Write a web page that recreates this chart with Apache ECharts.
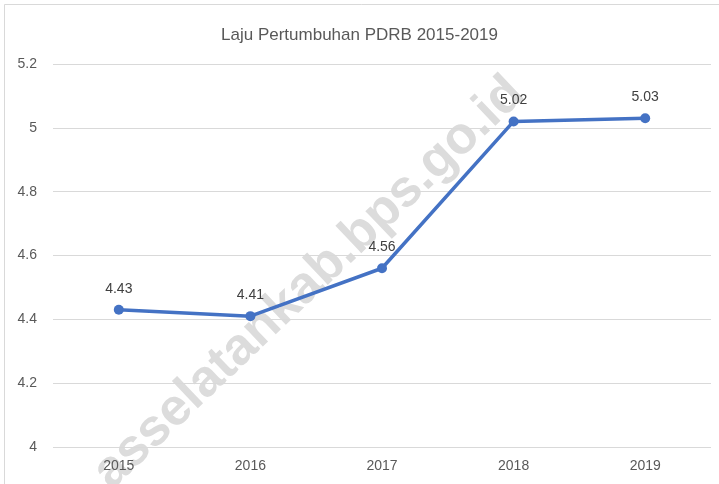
<!DOCTYPE html>
<html>
<head>
<meta charset="utf-8">
<script src="https://cdn.jsdelivr.net/npm/echarts@6/dist/echarts.min.js"></script>
<style>
  html, body { margin: 0; padding: 0; background: #fff; }
  #chart { width: 719px; height: 484px; }
</style>
</head>
<body>
<div id="chart"></div>
<script>
const years = ["2015", "2016", "2017", "2018", "2019"];
const growth = [4.43, 4.41, 4.56, 5.02, 5.03];

const chart = echarts.init(document.getElementById("chart"));
const font = "Liberation Sans";

const option = {
  backgroundColor: "#fff",
  title: {
    text: "Laju Pertumbuhan PDRB 2015-2019",
    left: "center",
    top: 22,
    textStyle: { fontFamily: font, fontSize: 17, fontWeight: "normal", color: "#595959" },
  },
  graphic: [
    // watermark
    {
      type: "text",
      x: 309,
      y: 283,
      rotation: 0.76,
      silent: true,
      z: 0,
      style: {
        text: "asselatankab.bps.go.id",
        font: "bold 52px Liberation Sans",
        fill: "#dcdcdc",
        align: "center",
        verticalAlign: "middle",
      },
    },
    // chart frame
    {
      type: "polyline",
      silent: true,
      shape: { points: [[4.5, 484], [4.5, 4.5], [719, 4.5]] },
      style: { stroke: "#d9d9d9", lineWidth: 1, fill: null },
    },
  ],
  grid: { left: 53, right: 8, top: 64, bottom: 37 },
  xAxis: {
    type: "category",
    data: years,
    boundaryGap: true,
    axisLine: { show: false },
    axisTick: { show: false },
    axisLabel: { fontFamily: font, fontSize: 14, color: "#595959", margin: 12 },
  },
  yAxis: {
    type: "value",
    min: 4,
    max: 5.2,
    interval: 0.2,
    axisLabel: {
      fontFamily: font,
      fontSize: 14,
      color: "#595959",
      margin: 16,
      formatter: (v) => String(+v.toFixed(1)),
    },
    splitLine: { lineStyle: { color: "#d9d9d9", width: 1 } },
  },
  series: [
    {
      type: "line",
      data: growth,
      z: 5,
      symbol: "circle",
      symbolSize: 10,
      lineStyle: { color: "#4472C4", width: 3.5 },
      itemStyle: { color: "#4472C4" },
      label: {
        show: true,
        position: "top",
        distance: 9,
        fontFamily: font,
        fontSize: 14,
        color: "#404040",
      },
    },
  ],
};

chart.setOption(option);
</script>
</body>
</html>
